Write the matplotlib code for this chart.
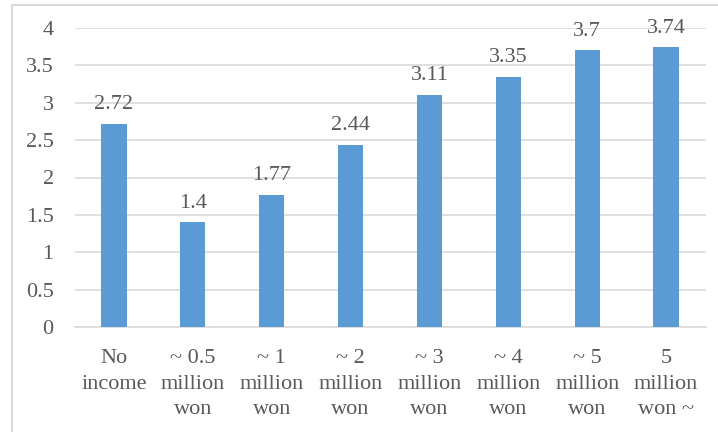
import matplotlib
matplotlib.use('Agg')
import matplotlib.pyplot as plt
from matplotlib.patches import Rectangle

categories = ['No\nincome', '~ 0.5\nmillion\nwon', '~ 1\nmillion\nwon', '~ 2\nmillion\nwon',
              '~ 3\nmillion\nwon', '~ 4\nmillion\nwon', '~ 5\nmillion\nwon', '5\nmillion\nwon ~']
values = [2.72, 1.4, 1.77, 2.44, 3.11, 3.35, 3.7, 3.74]
yticks = [0, 0.5, 1, 1.5, 2, 2.5, 3, 3.5, 4]
ytick_labels = ['0', '0.5', '1', '1.5', '2', '2.5', '3', '3.5', '4']

plt.rcParams['font.family'] = ['Liberation Serif', 'DejaVu Serif']
text_color = '#595959'
grid_color = '#D9D9D9'

fig = plt.figure(figsize=(7.18, 4.32), dpi=100)
ax = fig.add_axes([74.5 / 718, 105 / 432, 631 / 718, 299 / 432])

x = range(len(categories))
bars = ax.bar(x, values, width=0.32, color='#5B9BD5', zorder=3)
for xi, v in zip(x, values):
    ax.annotate(f'{v:g}', (xi, v), xytext=(0, 7), textcoords='offset points',
                ha='center', va='bottom', fontsize=16, color=text_color)

ax.set_xlim(-0.5, len(categories) - 0.5)
ax.set_ylim(0, 4)
ax.set_yticks(yticks)
ax.set_yticklabels(ytick_labels)
ax.set_xticks(list(x))
ax.set_xticklabels(categories, linespacing=1.45)
ax.tick_params(axis='y', length=0, pad=15, labelsize=16, labelcolor=text_color)
ax.tick_params(axis='x', length=0, pad=16, labelsize=16, labelcolor=text_color)
ax.yaxis.grid(True, color=grid_color, linewidth=1.2, zorder=0)
for side in ['top', 'right', 'left']:
    ax.spines[side].set_visible(False)
ax.spines['bottom'].set_color(grid_color)
ax.spines['bottom'].set_linewidth(1.2)

# outer chart border (cropped at right/bottom)
fig.patches.append(Rectangle((12 / 718, -0.1), 1.2, (432 - 5) / 432 + 0.1,
                             transform=fig.transFigure, fill=False,
                             edgecolor=grid_color, linewidth=1.5))

fig.savefig('out.png', dpi=100)
